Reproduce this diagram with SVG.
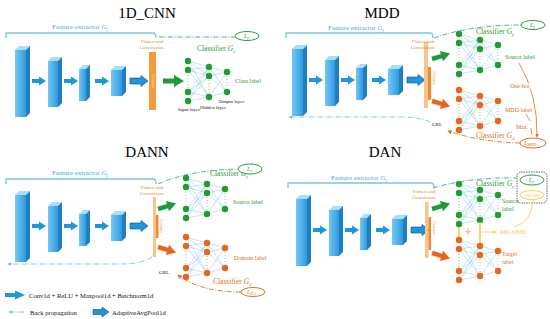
<svg xmlns="http://www.w3.org/2000/svg" xmlns:xlink="http://www.w3.org/1999/xlink" width="550" height="319" viewBox="0 0 550 319">
<style>
.t{font-family:"Liberation Serif","Times New Roman",serif}
.ttl{font-size:15px;fill:#000;text-anchor:middle}
.fe{font-size:7px;fill:#4aa8e0}
.fc{font-size:5px;fill:#e98a2c;text-anchor:middle}
.ft{font-size:4px;fill:#e98a2c;text-anchor:middle}
.cg{font-size:7.5px;fill:#2a9a3a}
.co{font-size:7.5px;fill:#e07020}
.lg{font-size:6px;fill:#2a9a3a}
.lo{font-size:6px;fill:#e07020}
.bk{font-size:5px;fill:#111}
.lgd{font-size:6.6px;fill:#111}
.halo{paint-order:stroke;stroke:#fff;stroke-width:2px}
.dd{fill:none;stroke:#3aaa8c;stroke-width:0.9;stroke-dasharray:5 1.5 1 1.5}
.bp{fill:none;stroke:#7cc0e0;stroke-width:0.9;stroke-dasharray:5 1.5 1 1.5}
.od{fill:none;stroke:#e07020;stroke-width:0.9;stroke-dasharray:5 1.5 1 1.5}
.br{fill:none;stroke:#7cc4ec;stroke-width:1.3}
.ly{fill:#fff;stroke:#2a9a4a;stroke-width:1}
.lo2{fill:#fff;stroke:#e07020;stroke-width:1}
</style>
<defs>
<linearGradient id="gf" x1="0" x2="1" y1="0" y2="0"><stop offset="0" stop-color="#74c8f4"/><stop offset="1" stop-color="#2f9ade"/></linearGradient>
<marker id="mo" viewBox="0 0 6 6" refX="5" refY="3" markerWidth="5" markerHeight="5" orient="auto"><path d="M0,0L6,3L0,6Z" fill="#e07020"/></marker>
<marker id="mb" viewBox="0 0 6 6" refX="5" refY="3" markerWidth="4" markerHeight="4" orient="auto"><path d="M0,0L6,3L0,6Z" fill="#7cc0e0"/></marker>
<marker id="my" viewBox="0 0 6 6" refX="5" refY="3" markerWidth="5" markerHeight="5" orient="auto"><path d="M0,0L6,3L0,6Z" fill="#f5d060"/></marker>
<path id="ca" d="M0,-2H7V-4.5L14,0L7,4.5V2H0Z" fill="#1e96d8"/>
<path id="pa" d="M0,-3H11V-5.5L18,0L11,5.5V3H0Z" fill="#1e96d8" stroke="#0b4f86" stroke-width="0.6"/>
<path id="ga" d="M0,-2.5H11V-6L21,0L11,6V2.5H0Z"/>
<g id="blk">
<rect x="15" y="50" width="11" height="67" fill="url(#gf)"/><polygon points="15,50 19,46 30,46 26,50" fill="#a8def8"/><polygon points="26,50 30,46 30,113 26,117" fill="#1f7fc4"/>
<rect x="48" y="61" width="10" height="46" fill="url(#gf)"/><polygon points="48,61 52,57 62,57 58,61" fill="#a8def8"/><polygon points="58,61 62,57 62,103 58,107" fill="#1f7fc4"/>
<rect x="79" y="69" width="7" height="32" fill="url(#gf)"/><polygon points="79,69 83,65 90,65 86,69" fill="#a8def8"/><polygon points="86,69 90,65 90,97 86,101" fill="#1f7fc4"/>
<rect x="111" y="70" width="11" height="26" fill="url(#gf)"/><polygon points="111,70 115,66 126,66 122,70" fill="#a8def8"/><polygon points="122,70 126,66 126,92 122,96" fill="#1f7fc4"/>
<use href="#ca" x="32" y="81"/><use href="#ca" x="64" y="81"/><use href="#ca" x="95" y="81"/><use href="#pa" x="130" y="81"/>
</g>
<g id="net">
<path d="M0,0L21,6M0,0L21,15M0,0L21,36M0,9L21,6M0,9L21,15M0,9L21,36M0,31L21,6M0,31L21,15M0,31L21,36M0,40L21,6M0,40L21,15M0,40L21,36M21,6L39,11M21,6L39,31M21,15L39,11M21,15L39,31M21,36L39,11M21,36L39,31" fill="none" stroke="#8ac6e6" stroke-width="0.5"/>
<path d="M0,14V27M21,19V32M39,15V27" stroke="#8a8a8a" stroke-width="0.8" stroke-dasharray="0.8 2.2" fill="none"/>
<g fill="currentColor"><circle cx="0" cy="0" r="3.2"/><circle cx="0" cy="9" r="3.2"/><circle cx="0" cy="31" r="3.2"/><circle cx="0" cy="40" r="3.2"/><circle cx="21" cy="6" r="3.2"/><circle cx="21" cy="15" r="3.2"/><circle cx="21" cy="36" r="3.2"/><circle cx="39" cy="11" r="3.2"/><circle cx="39" cy="31" r="3.2"/></g>
</g>
</defs>
<rect width="550" height="319" fill="#fff"/>

<g id="cnn">
<text class="t ttl" x="147" y="18">1D_CNN</text>
<path class="br" d="M6,38V33H153Q156,33 156,38"/>
<text class="t fe" x="52" y="29">Feature extractor <tspan font-style="italic">G</tspan><tspan font-style="italic" font-size="4.5" dy="1.5">f</tspan></text>
<use href="#blk"/>
<rect x="149" y="52" width="7" height="58" fill="#f39b3e"/>
<text class="t fc" x="152" y="43">Flatten and</text><text class="t fc" x="152" y="48.5">Concatenate</text>
<text class="t ft" transform="translate(151.5,81) rotate(90)" style="fill:#fde3c0">Features</text>
<use href="#ga" x="163" y="81" fill="#1f9a3a"/>
<use href="#net" x="188" y="61" color="#1f9d2f"/>
<text class="t cg" x="197" y="51">Classifier <tspan font-style="italic">G</tspan><tspan font-style="italic" font-size="5" dy="1.5">y</tspan></text>
<text class="t lg" x="235" y="83">Class label</text>
<text class="t bk" x="178" y="111">Input layer</text>
<text class="t bk" x="200" y="109">Hidden layer</text>
<text class="t bk" x="219" y="103">Output layer</text>
<ellipse class="ly" cx="247" cy="36" rx="12" ry="4.5"/>
<text class="t lg" x="244" y="38" font-style="italic">L<tspan font-size="4" dy="1">y</tspan></text>
</g>

<g id="mdd">
<text class="t ttl" x="382" y="18">MDD</text>
<g transform="translate(277,-1)"><path class="br" d="M9,39V34H153Q156,34 156,39"/><use href="#blk"/></g>
<text class="t fe" x="328" y="30">Feature extractor <tspan font-style="italic">G</tspan><tspan font-style="italic" font-size="4.5" dy="1.5">f</tspan></text>
<rect x="424" y="42" width="4" height="66" fill="#f9c48a"/><rect x="428" y="67" width="3" height="33" fill="#f08a2a"/>
<text class="t fc" x="423" y="43">Flatten and</text><text class="t fc" x="423" y="48.5">Concatenate</text>
<text class="t ft" transform="translate(433,78) rotate(90)">Features</text>
<use href="#ga" transform="translate(432,59) rotate(-17) scale(0.9)" fill="#1f9a3a"/>
<use href="#ga" transform="translate(432,101) rotate(17) scale(0.9)" fill="#e8661c"/>
<use href="#net" x="459" y="34" color="#1f9d2f"/>
<use href="#net" x="459" y="90" color="#e8661c"/>
<text class="t cg" x="476" y="34">Classifier <tspan font-style="italic">G</tspan><tspan font-style="italic" font-size="5" dy="1.5">y</tspan></text>
<text class="t lg" x="505" y="59">Source label</text>
<text class="t co" x="476" y="138">Classifier <tspan font-style="italic">G</tspan><tspan font-style="italic" font-size="5" dy="1.5">d</tspan></text>
<text class="t lo" x="505" y="112">MDD label</text>
<text class="t bk" x="432" y="126">GRL</text>
<ellipse class="ly" cx="533" cy="25" rx="12" ry="4.5"/>
<text class="t lg" x="530" y="27" font-style="italic">L<tspan font-size="4" dy="1">y</tspan></text>
<ellipse class="lo2" cx="533" cy="143" rx="13" ry="5"/>
<text class="t lo" x="524" y="145" font-style="italic">L<tspan font-size="4" dy="1">MDD</tspan></text>
</g>

<g id="dann">
<text class="t ttl" x="147" y="157">DANN</text>
<g transform="translate(0,145)"><path class="br" d="M6,39V34H153Q156,34 156,39"/><use href="#blk"/></g>
<text class="t fe" x="52" y="175">Feature extractor <tspan font-style="italic">G</tspan><tspan font-style="italic" font-size="4.5" dy="1.5">f</tspan></text>
<rect x="153" y="197" width="3" height="60" fill="#f9c48a"/><rect x="156" y="215" width="2.5" height="23" fill="#f08a2a"/>
<text class="t fc" x="152" y="189">Flatten and</text><text class="t fc" x="152" y="194.5">Concatenate</text>
<text class="t ft" transform="translate(160,226) rotate(90)">Features</text>
<use href="#ga" transform="translate(158,209) rotate(-17) scale(0.9)" fill="#1f9a3a"/>
<use href="#ga" transform="translate(158,247) rotate(17) scale(0.9)" fill="#e8661c"/>
<use href="#net" x="186" y="178" color="#1f9d2f"/>
<use href="#net" x="186" y="237" color="#e8661c"/>
<text class="t cg" x="210" y="176">Classifier <tspan font-style="italic">G</tspan><tspan font-style="italic" font-size="5" dy="1.5">y</tspan></text>
<text class="t lg" x="233" y="204">Source label</text>
<text class="t lo" x="234" y="260">Domain label</text>
<text class="t co" x="213" y="284">Classifier <tspan font-style="italic">G</tspan><tspan font-style="italic" font-size="5" dy="1.5">d</tspan></text>
<text class="t bk" x="159" y="274">GRL</text>
<ellipse class="ly" cx="250" cy="169" rx="12" ry="5"/>
<text class="t lg" x="247" y="171" font-style="italic">L<tspan font-size="4" dy="1">y</tspan></text>
<ellipse class="lo2" cx="253" cy="292" rx="12" ry="4.5"/>
<text class="t lo" x="247" y="294" font-style="italic">L<tspan font-size="4" dy="1">DA</tspan></text>
</g>

<g id="dan">
<text class="t ttl" x="385" y="157">DAN</text>
<g transform="translate(281,149)"><path class="br" d="M7,39V34H150Q153,34 153,39"/><use href="#blk"/></g>
<text class="t fe" x="331" y="180">Feature extractor <tspan font-style="italic">G</tspan><tspan font-style="italic" font-size="4.5" dy="1.5">f</tspan></text>
<rect x="425" y="202" width="3.5" height="56" fill="#f9c48a"/><rect x="428.5" y="217" width="2.5" height="33" fill="#f08a2a"/>
<text class="t fc" x="424" y="193">Flatten and</text><text class="t fc" x="424" y="198.5">Concatenate</text>
<text class="t ft" transform="translate(433,228) rotate(90)">Features</text>
<use href="#ga" transform="translate(432,209) rotate(-17) scale(0.9)" fill="#1f9a3a"/>
<use href="#ga" transform="translate(432,253) rotate(17) scale(0.9)" fill="#e8661c"/>
<use href="#net" x="459" y="184" color="#1f9d2f"/>
<use href="#net" x="459" y="240" color="#e8661c"/>
<path d="M459,227V237M480,222V243" stroke="#f5c842" stroke-width="1.5" fill="none"/>
<text x="468" y="235" font-family="Liberation Sans,sans-serif" font-size="10" font-weight="bold" fill="#f5c842" text-anchor="middle">+</text>
<text class="t cg" x="476" y="186">Classifier <tspan font-style="italic">G</tspan><tspan font-style="italic" font-size="5" dy="1.5">y</tspan></text>
<text class="t lg" x="502" y="203">Source</text><text class="t lg" x="502" y="211">label</text>
<text class="t lo" x="502" y="256">Target</text><text class="t lo" x="502" y="264">label</text>
<text class="t" x="500" y="234" font-size="6" fill="#f0cc55">MK-MMD</text>
<rect x="517" y="172" width="30" height="31" rx="4" fill="none" stroke="#555" stroke-width="0.9" stroke-dasharray="1.5 1"/>
<ellipse class="ly" cx="532" cy="180" rx="12" ry="5"/>
<text class="t lg" x="529" y="182" font-style="italic">L<tspan font-size="4" dy="1">y</tspan></text>
<ellipse cx="532" cy="195" rx="12" ry="4.5" fill="#fff" stroke="#f5d060" stroke-width="1"/>
<text class="t" x="532" y="197" font-size="3.5" fill="#f5d060" text-anchor="middle" font-style="italic">L<tspan font-size="3">MK-MMD</tspan></text>
</g>

<g id="connectors">
<path class="dd" d="M159,37H235"/>
<path class="dd" d="M434,38Q470,25 521,25"/>
<path class="dd" d="M158,184Q190,170 238,169"/>
<path class="dd" d="M433,188Q470,177 517,178"/>
<path class="od" d="M520,143Q480,142 448,131" marker-end="url(#mo)"/>
<path class="od" d="M241,292Q200,292 178,275" marker-end="url(#mo)"/>
<path class="bp" d="M430,122Q420,117 400,117H289" marker-end="url(#mb)"/>
<path class="bp" d="M152,257Q142,264 120,264H8" marker-end="url(#mb)"/>
<path d="M519,63Q538,95 537,137" fill="none" stroke="#e07020" stroke-width="0.8" marker-end="url(#mo)"/>
<path d="M526,114L530,121M531,128L532,135" fill="none" stroke="#e07020" stroke-width="0.8"/>
<path d="M482,232H496" fill="none" stroke="#f5d060" stroke-width="0.8" marker-end="url(#my)"/>
<path d="M533,200Q532,222 514,227" fill="none" stroke="#f5d060" stroke-width="0.9"/>
</g>
<g id="mdd-notes">
<text class="t lo halo" x="510" y="88">One-hot</text>
<text class="t lo" x="516" y="129" font-size="5.5">Max</text>
</g>

<g id="legend">
<path d="M5,293H15V290.5L25,295L15,299.5V297H5Z" fill="#1e96d8"/>
<text class="t lgd" x="29" y="298">Conv1d + ReLU + Maxpool1d + Batchnorm1d</text>
<path class="bp" d="M24,312H9" stroke-dasharray="7 3 4" marker-end="url(#mb)"/>
<text class="t lgd" x="30" y="314.5">Back propagation</text>
<path d="M93,309.5H102V307L109,312L102,317V314.5H93Z" fill="#1e96d8" stroke="#0b4f86" stroke-width="0.6"/>
<text class="t lgd" x="112" y="314.5">AdaptiveAvgPool1d</text>
</g>
</svg>
